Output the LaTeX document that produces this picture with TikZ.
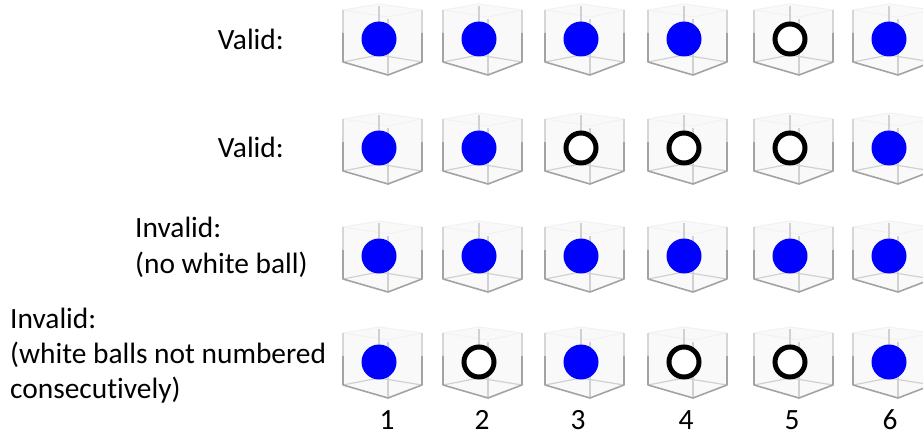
\documentclass[tikz,border=0pt]{standalone}
\usepackage{fontspec}
\setmainfont[Ligatures=NoCommon]{Carlito}
\begin{document}
\begin{tikzpicture}[x=1pt,y=-1pt,
  lbl/.style={inner sep=0pt,font=\fontsize{29.4}{36}\selectfont},
  num/.style={lbl,anchor=base},
  blueball/.style={circle,fill=blue,inner sep=0pt,minimum width=35pt,minimum height=33pt},
  whiteball/.style={circle,draw=black,fill=white,line width=5pt,inner sep=0pt,minimum size=30pt},
  outeredge/.style={draw=black!36,line width=1.6pt,line join=round},
  upperedge/.style={draw=black!16,line width=1.4pt},
  inneredge/.style={draw=black!18,line width=1.2pt},
  topedge/.style={draw=black!5,line width=1pt},
  vial/.pic={
    \fill[black!2.5] (-36,-29) -- (0,-35) -- (43,-29) -- (43,23) -- (9,36) -- (-36,23) -- cycle;
    \path[topedge] (-36,-29) -- (0,-35) -- (43,-29);
    \path[topedge] (-36,-29) -- (9,-22) -- (43,-29);
    \path[inneredge] (0,-33) -- (0,16);
    \path[inneredge] (-36,23) -- (0,16) -- (43,23);
    \path[inneredge] (9,-20) -- (9,36);
    \path[upperedge] (-36,-29) -- (-36,-5);
    \path[upperedge] (43,-29) -- (43,-5);
    \path[outeredge] (-36,-6) -- (-36,23) -- (9,36) -- (43,23) -- (43,-6);
  }]
\useasboundingbox (0,0) rectangle (923,436);
\clip (0,0) rectangle (923,436);
% row labels
\node[lbl,anchor=base east] (v1) at (284,50) {Valid:};
\node[lbl,anchor=base east] (v2) at (284,157) {Valid:};
\node[lbl,anchor=base west] (i3a) at (135,237) {Invalid:};
\node[lbl,anchor=base west] (i3b) at (135,273) {(no white ball)};
\node[lbl,anchor=base west] (i4a) at (10,328) {Invalid:};
\node[lbl,anchor=base west] (i4b) at (10,363) {(white balls not numbered};
\node[lbl,anchor=base west] (i4c) at (10,398) {consecutively)};
% vials
\foreach \cx/\c in {379/1,479/2,581/3,684/4,790/5,889/6}{
  \foreach \cy/\r in {39/1,148/2,256/3,362/4}{
    \pic (vial\r\c) at (\cx,\cy) {vial};
  }
}
% balls: row 1
\node[blueball] (b11) at (379,39) {};
\node[blueball] (b12) at (479,39) {};
\node[blueball] (b13) at (581,39) {};
\node[blueball] (b14) at (684,39) {};
\node[whiteball] (b15) at (790,39) {};
\node[blueball] (b16) at (889,39) {};
% row 2
\node[blueball] (b21) at (379,148) {};
\node[blueball] (b22) at (479,148) {};
\node[whiteball] (b23) at (581,148) {};
\node[whiteball] (b24) at (684,148) {};
\node[whiteball] (b25) at (790,148) {};
\node[blueball] (b26) at (889,148) {};
% row 3
\node[blueball] (b31) at (379,256) {};
\node[blueball] (b32) at (479,256) {};
\node[blueball] (b33) at (581,256) {};
\node[blueball] (b34) at (684,256) {};
\node[blueball] (b35) at (790,256) {};
\node[blueball] (b36) at (889,256) {};
% row 4
\node[blueball] (b41) at (379,362) {};
\node[whiteball] (b42) at (479,362) {};
\node[blueball] (b43) at (581,362) {};
\node[whiteball] (b44) at (684,362) {};
\node[whiteball] (b45) at (790,362) {};
\node[blueball] (b46) at (889,362) {};
% numbers
\node[num] (n1) at (387,429) {1};
\node[num] (n2) at (482,429) {2};
\node[num] (n3) at (578,429) {3};
\node[num] (n4) at (686,429) {4};
\node[num] (n5) at (792,429) {5};
\node[num] (n6) at (890,429) {6};
\end{tikzpicture}
\end{document}
